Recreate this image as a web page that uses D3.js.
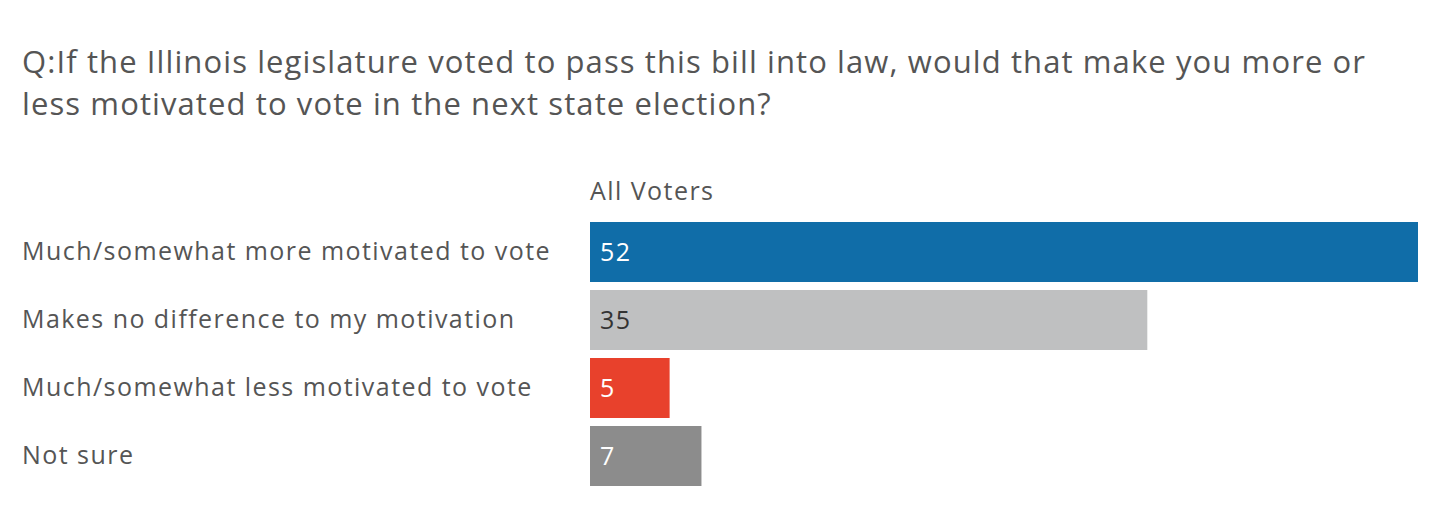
<!DOCTYPE html>
<html>
<head>
<meta charset="utf-8">
<script src="https://cdn.jsdelivr.net/npm/d3@7"></script>
<style>
  html, body { margin: 0; padding: 0; background: #fff; }
  svg { display: block; font-family: "Open Sans", "Noto Sans", sans-serif; }
</style>
</head>
<body>
<svg width="1440" height="506"></svg>
<script>
// chart data
const categories = [
  'Much/somewhat more motivated to vote',
  'Makes no difference to my motivation',
  'Much/somewhat less motivated to vote',
  'Not sure'
]
const values = [52, 35, 5, 7]
const barColors = ['#106da8', '#bfc0c1', '#e8412c', '#8c8c8c']
const valueColors = ['#ffffff', '#333333', '#ffffff', '#ffffff']
const seriesName = 'All Voters'
const titleLines = [
  'Q:If the Illinois legislature voted to pass this bill into law, would that make you more or',
  'less motivated to vote in the next state election?'
]

const svg = d3.select('svg')
const textColor = '#555555'

// title, two lines
svg.append('g').selectAll('text').data(titleLines)
  .enter().append('text')
    .attr('x', 22)
    .attr('y', (d, i) => 73 + i * 42)
    .attr('fill', textColor)
    .style('font-size', '31px')
    .style('letter-spacing', '1.1px')
    .text(d => d)

const margin = {top: 222, left: 590}
const data = categories.map((c, i) => ({category: c, value: values[i], i}))

// 52 ends at x=1418
const xScale = d3.scaleLinear()
  .domain([0, d3.max(values)])
  .range([0, 828])

// 60px bars, 8px gaps
const yScale = d3.scaleBand()
  .domain(categories)
  .range([0, 264])
  .paddingInner(8 / 68)
  .paddingOuter(0)

const g = svg.append('g')
  .attr('transform', `translate(${margin.left},${margin.top})`)
  .style('font-size', '25px')
  .style('letter-spacing', '1.45px')

// series header
g.append('text')
  .attr('x', 0)
  .attr('y', -22)
  .attr('fill', textColor)
  .text(seriesName)

g.selectAll('rect').data(data)
  .enter().append('rect')
    .attr('x', 0)
    .attr('y', d => yScale(d.category))
    .attr('width', d => xScale(d.value))
    .attr('height', yScale.bandwidth())
    .attr('fill', d => barColors[d.i])

// values inside bars
g.selectAll('.value').data(data)
  .enter().append('text')
    .attr('class', 'value')
    .attr('x', 10)
    .attr('y', d => yScale(d.category) + yScale.bandwidth() / 2 + 9)
    .attr('fill', d => valueColors[d.i])
    .text(d => d.value)

// category labels on the left
g.selectAll('.cat').data(data)
  .enter().append('text')
    .attr('class', 'cat')
    .attr('x', 22 - margin.left)
    .attr('y', d => yScale(d.category) + yScale.bandwidth() / 2 + 8)
    .attr('fill', textColor)
    .text(d => d.category)
</script>
</body>
</html>
